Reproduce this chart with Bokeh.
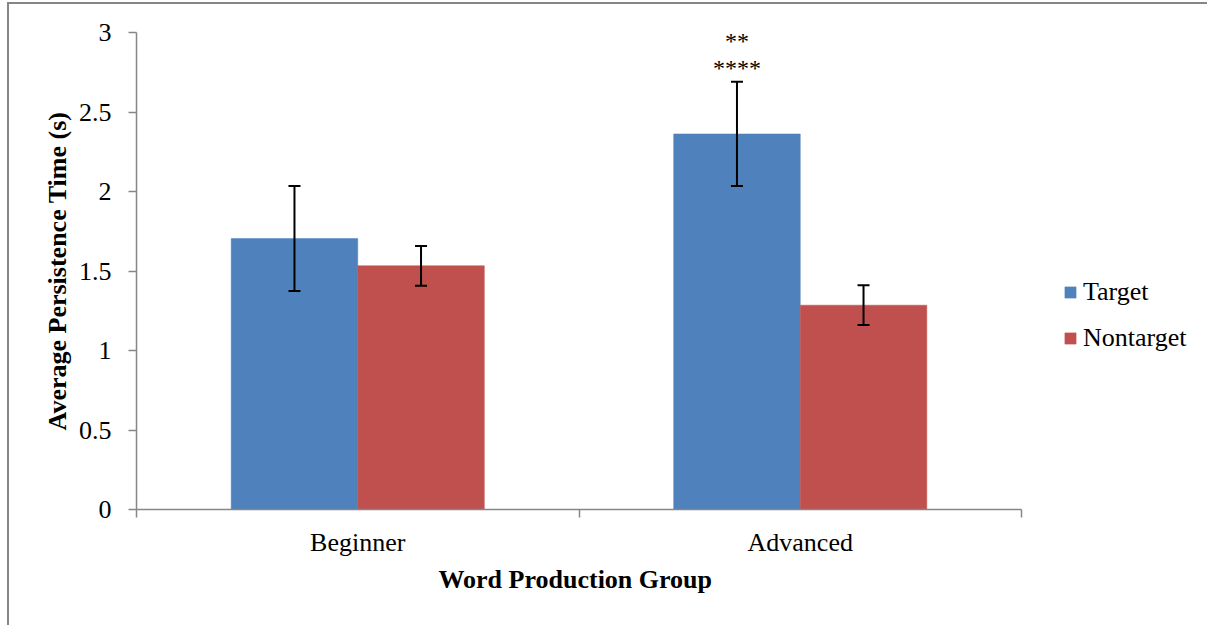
from bokeh.plotting import figure
from bokeh.models import (ColumnDataSource, Whisker, TeeHead, FixedTicker, LinearAxis,
                          Legend, LegendItem, Range1d, Title)
from bokeh.core.properties import value
from bokeh.embed import file_html
from bokeh.resources import INLINE

# Data
groups = ["Beginner", "Advanced"]
series = ["Target", "Nontarget"]
target_mean = [1.704, 2.362]
target_err = [0.330, 0.328]
nontarget_mean = [1.533, 1.285]
nontarget_err = [0.125, 0.125]
stars_advanced_target = ["**", "****"]
y_ticks = [0, 0.5, 1, 1.5, 2, 2.5, 3]
y_tick_labels = ["0", "0.5", "1", "1.5", "2", "2.5", "3"]
x_title = "Word Production Group"
y_title = "Average Persistence Time (s)"

BLUE = "#4F81BD"
RED = "#C0504D"
AXIS_GREY = "#868686"
FONT = "Liberation Serif"

bar_w = 0.286  # bar width as a fraction of one group slot

# Layout: the plotting frame runs to the right edge so the legend can sit
# beside the bars; the category axis itself only spans the two groups.
LEFT, TOP, BOTTOM = 127, 28, 116
FRAME_W, FRAME_H = 1071, 477
AXIS_SPAN_PX = 885
x_end = len(groups) * FRAME_W / AXIS_SPAN_PX

p = figure(width=LEFT + FRAME_W, height=TOP + FRAME_H + BOTTOM,
           frame_width=FRAME_W, frame_height=FRAME_H,
           output_backend="svg", toolbar_location=None,
           x_range=Range1d(0, x_end), y_range=Range1d(0, 3),
           min_border_left=LEFT, min_border_right=0, min_border_top=TOP,
           min_border_bottom=BOTTOM, x_axis_type=None, y_axis_type=None)
p.outline_line_color = None
p.grid.visible = False
p.background_fill_color = "white"
p.border_fill_color = "white"
# Chart-area border (left and top edges)
p.styles = {"margin-left": "7px", "margin-top": "2px",
            "border-left": f"2px solid {AXIS_GREY}",
            "border-top": f"2px solid {AXIS_GREY}"}

centers = [i + 0.5 for i in range(len(groups))]
tx = [c - bar_w / 2 for c in centers]
nx = [c + bar_w / 2 for c in centers]

src_t = ColumnDataSource(dict(x=tx, top=target_mean,
                              lo=[m - e for m, e in zip(target_mean, target_err)],
                              hi=[m + e for m, e in zip(target_mean, target_err)]))
src_n = ColumnDataSource(dict(x=nx, top=nontarget_mean,
                              lo=[m - e for m, e in zip(nontarget_mean, nontarget_err)],
                              hi=[m + e for m, e in zip(nontarget_mean, nontarget_err)]))

r_t = p.vbar(x="x", top="top", bottom=0, width=bar_w, source=src_t,
             fill_color=BLUE, line_color=BLUE, line_width=0.5)
r_n = p.vbar(x="x", top="top", bottom=0, width=bar_w, source=src_n,
             fill_color=RED, line_color=RED, line_width=0.5)

for src in (src_t, src_n):
    w = Whisker(base="x", upper="hi", lower="lo", source=src, level="overlay",
                line_color="black", line_width=2,
                upper_head=TeeHead(size=12, line_color="black", line_width=2),
                lower_head=TeeHead(size=12, line_color="black", line_width=2))
    p.add_layout(w)

# Significance markers above the Advanced / Target error bar
adv_top = target_mean[1] + target_err[1]
p.text(x=[tx[1]], y=[adv_top], text=[stars_advanced_target[1]], y_offset=-14,
       text_align="center", text_baseline="middle", text_font=value(FONT),
       text_font_size="24px", text_color="black")
p.text(x=[tx[1]], y=[adv_top], text=[stars_advanced_target[0]], y_offset=-41,
       text_align="center", text_baseline="middle", text_font=value(FONT),
       text_font_size="24px", text_color="black")

# Y axis
yax = LinearAxis(ticker=FixedTicker(ticks=y_ticks),
                 major_label_overrides={t: l for t, l in zip(y_ticks, y_tick_labels)},
                 axis_label=y_title)
yax.axis_line_color = AXIS_GREY
yax.axis_line_width = 1.5
yax.major_tick_line_color = AXIS_GREY
yax.major_tick_line_width = 1.5
yax.major_tick_out = 8
yax.major_tick_in = 0
yax.minor_tick_line_color = None
yax.major_label_text_font = FONT
yax.major_label_text_font_size = "26px"
yax.major_label_text_color = "black"
yax.major_label_standoff = 17
yax.axis_label_text_font = FONT
yax.axis_label_text_font_style = "bold"
yax.axis_label_text_font_size = "26px"
yax.axis_label_text_color = "black"
yax.axis_label_standoff = 4
p.add_layout(yax, "left")

# X axis: group boundary ticks
xticks_ax = LinearAxis(ticker=FixedTicker(ticks=[0, 1, 2]), bounds=(0, len(groups)))
xticks_ax.axis_line_color = AXIS_GREY
xticks_ax.axis_line_width = 1.5
xticks_ax.major_tick_line_color = AXIS_GREY
xticks_ax.major_tick_line_width = 1.5
xticks_ax.major_tick_out = 8
xticks_ax.major_tick_in = 0
xticks_ax.minor_tick_line_color = None
xticks_ax.major_label_text_font_size = "0px"
xticks_ax.major_label_standoff = 0
p.add_layout(xticks_ax, "below")

# X axis: group names
xlab_ax = LinearAxis(ticker=FixedTicker(ticks=centers), bounds=(0, len(groups)),
                     major_label_overrides={c: g for c, g in zip(centers, groups)})
xlab_ax.axis_line_color = None
xlab_ax.major_tick_line_color = None
xlab_ax.minor_tick_line_color = None
xlab_ax.major_label_text_font = FONT
xlab_ax.major_label_text_font_size = "26px"
xlab_ax.major_label_text_color = "black"
xlab_ax.major_label_standoff = 4
p.add_layout(xlab_ax, "below")

# X axis title, centred under the category axis (not the whole frame)
xt = Title(text=x_title, align="left", offset=302, standoff=6,
           text_font=FONT, text_font_style="bold", text_font_size="26px",
           text_color="black")
p.add_layout(xt, "below")

legend = Legend(items=[LegendItem(label=series[0], renderers=[r_t]),
                       LegendItem(label=series[1], renderers=[r_n])],
                location=(927, 156))
legend.border_line_color = None
legend.background_fill_alpha = 0
legend.padding = 0
legend.margin = 0
legend.glyph_width = 14
legend.glyph_height = 14
legend.label_standoff = 6
legend.spacing = 16
legend.label_text_font = FONT
legend.label_text_font_size = "26px"
legend.label_text_color = "black"
p.add_layout(legend, "center")

open("out.html", "w").write(file_html(p, INLINE))
